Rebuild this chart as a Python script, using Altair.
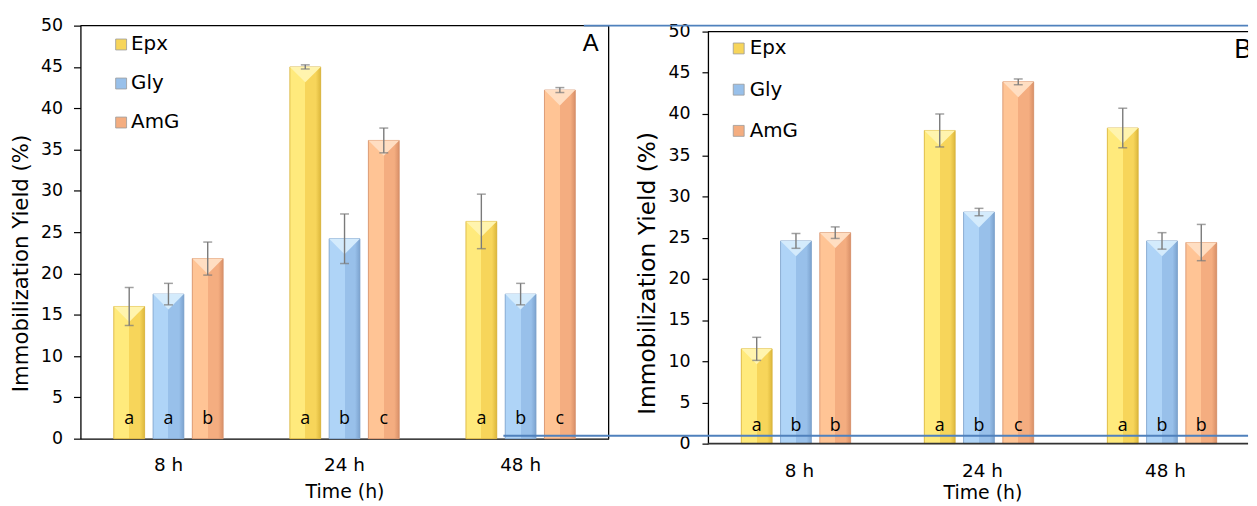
import altair as alt
import pandas as pd

series = ["Epx", "Gly", "AmG"]
times_a = ["8 h", "24 h", "48 h"]
times_b = ["8 h", "24 h", "48  h"]
y_ticks = [0, 5, 10, 15, 20, 25, 30, 35, 40, 45, 50]

# Panel A values (%), errors and significance letters
a_epx = [16.0, 45.0, 26.3]
a_gly = [17.5, 24.2, 17.5]
a_amg = [21.8, 36.1, 42.2]
a_epx_err = [2.3, 0.25, 3.3]
a_gly_err = [1.3, 3.0, 1.3]
a_amg_err = [2.0, 1.5, 0.3]
a_epx_let = ["a", "a", "a"]
a_gly_let = ["a", "b", "b"]
a_amg_let = ["b", "c", "c"]

# Panel B
b_epx = [11.5, 38.0, 38.3]
b_gly = [24.6, 28.1, 24.6]
b_amg = [25.6, 43.9, 24.4]
b_epx_err = [1.4, 2.0, 2.4]
b_gly_err = [0.9, 0.45, 1.0]
b_amg_err = [0.7, 0.35, 2.2]
b_epx_let = ["a", "a", "a"]
b_gly_let = ["b", "b", "b"]
b_amg_let = ["b", "c", "b"]

# style
FONT = "DejaVu Sans"
LIGHT = {"Epx": "#FFEA7C", "Gly": "#AFD4F7", "AmG": "#FFC495"}
MID = {"Epx": "#F7D55A", "Gly": "#98C0EA", "AmG": "#F4AD80"}
DARK = {"Epx": "#DDB83C", "Gly": "#7CA3CF", "AmG": "#D99068"}
TOP = {"Epx": "#FFF4AE", "Gly": "#D4EBFC", "AmG": "#FFDEC2"}
EDGE = {"Epx": "#D6B23E", "Gly": "#7FA2CA", "AmG": "#D4916C"}
ERR = "#7A7A7A"
BLUE = "#4F81BD"


def make_df(times, vals, errs, lets):
    rows = []
    for s, v, e, l in zip(series, vals, errs, lets):
        for t, vv, ee, ll in zip(times, v, e, l):
            rows.append({"time": t, "series": s, "value": vv, "err": ee,
                         "lo": vv - ee, "hi": vv + ee, "letter": ll})
    return pd.DataFrame(rows)


df_a = make_df(times_a, [a_epx, a_gly, a_amg], [a_epx_err, a_gly_err, a_amg_err],
               [a_epx_let, a_gly_let, a_amg_let])
df_b = make_df(times_b, [b_epx, b_gly, b_amg], [b_epx_err, b_gly_err, b_amg_err],
               [b_epx_let, b_gly_let, b_amg_let])


def grad(s):
    return alt.LinearGradient(
        gradient="linear", x1=0, x2=1, y1=0, y2=0,
        stops=[alt.GradientStop(color=LIGHT[s], offset=0),
               alt.GradientStop(color=LIGHT[s], offset=0.5),
               alt.GradientStop(color=MID[s], offset=0.5),
               alt.GradientStop(color=MID[s], offset=0.84),
               alt.GradientStop(color=DARK[s], offset=1)])


def panel(df, times, width, height, x_range, y_range, x_axis, y_axis, legend,
          xo_pad, letter_dy, label, label_x, label_y, label_size, extra):
    xs = alt.Scale(domain=times, paddingInner=0, paddingOuter=0)
    if x_range is not None:
        xs = alt.Scale(domain=times, paddingInner=0, paddingOuter=0, range=x_range)
    x = alt.X("time:N", sort=times, scale=xs, axis=x_axis)
    xo = alt.XOffset("series:N", sort=series,
                     scale=alt.Scale(domain=series, paddingInner=xo_pad[0], paddingOuter=xo_pad[1]))
    ys = alt.Scale(domain=[0, 50], nice=False, zero=True)
    if y_range is not None:
        ys = alt.Scale(domain=[0, 50], nice=False, zero=True, range=y_range)
    y = alt.Y("value:Q", scale=ys, axis=y_axis)
    base = alt.Chart(df)
    layers = [base.mark_bar().encode(
        x=x, xOffset=xo, y=y,
        color=alt.Color("series:N", sort=series,
                        scale=alt.Scale(domain=series, range=[MID[s] for s in series]),
                        legend=legend))]
    for s in series:
        sub = base.transform_filter(alt.datum.series == s)
        layers.append(sub.mark_bar(color=grad(s), stroke=EDGE[s], strokeWidth=0.8).encode(
            x=x, xOffset=xo, y=y))
        layers.append(sub.mark_point(shape="M-1,0L1,0L0,1Z", filled=True, size=961,
                                     opacity=1, color=TOP[s], strokeWidth=0).encode(
            x=x, xOffset=xo, y=y))
    layers.append(base.mark_rule(color=ERR, strokeWidth=1.4).encode(
        x=x, xOffset=xo, y=alt.Y("lo:Q"), y2="hi:Q"))
    layers.append(base.mark_tick(color=ERR, size=9, thickness=1.5).encode(
        x=x, xOffset=xo, y=alt.Y("lo:Q")))
    layers.append(base.mark_tick(color=ERR, size=9, thickness=1.5).encode(
        x=x, xOffset=xo, y=alt.Y("hi:Q")))
    layers.append(base.mark_text(font="Open Sans", fontSize=18, color="black",
                                 baseline="alphabetic", dy=letter_dy).encode(
        x=x, xOffset=xo, y=alt.datum(0), text="letter:N"))
    lab = alt.Chart(pd.DataFrame({"p": [label]}))
    layers.append(lab.mark_text(font="Liberation Sans", fontSize=label_size, color="black",
                                align="left", baseline="alphabetic", clip=True).encode(
        x=alt.value(label_x), y=alt.value(label_y), text="p:N"))
    layers += extra
    return alt.layer(*layers).properties(width=width, height=height)


def yaxis(tick, pad, tx, ty, tsize):
    return alt.Axis(values=y_ticks, grid=False, domainColor="black", domainWidth=1.3,
                    tickColor="black", tickSize=tick, tickWidth=1.2,
                    labelFont=FONT, labelFontSize=17.5, labelColor="black", labelPadding=pad,
                    title="Immobilization Yield (%)", titleFont=FONT, titleFontSize=tsize,
                    titleFontWeight="normal", titleColor="black", titleAngle=270,
                    titleX=tx, titleY=ty, titleBaseline="middle", titleAlign="center")


def xaxis(lpad, tpad, domain):
    return alt.Axis(grid=False, ticks=False, tickSize=0, labelAngle=0, domain=domain,
                    domainColor="black", domainWidth=1.3,
                    labelFont=FONT, labelFontSize=18.5, labelColor="black", labelPadding=lpad,
                    title="Time (h)", titleFont=FONT, titleFontSize=19,
                    titleFontWeight="normal", titleColor="black", titlePadding=tpad)


def legend(lx, ly, rp, lo):
    return alt.Legend(title=None, orient="none", legendX=lx, legendY=ly, symbolType="square",
                      symbolSize=121, symbolStrokeColor="#9a9a9a", symbolStrokeWidth=0.8,
                      symbolOpacity=1, labelFont=FONT, labelFontSize=20, labelColor="black",
                      rowPadding=rp, padding=0, labelOffset=lo)


one = alt.Chart(pd.DataFrame({"k": [0]}))
extra_a = [
    one.mark_rule(color="black", strokeWidth=1.3).encode(
        x=alt.value(0), x2=alt.value(532), y=alt.datum(50)),
    one.mark_rule(color="black", strokeWidth=1.3).encode(
        x=alt.value(532), y=alt.datum(0), y2=alt.datum(50)),
]
extra_b = [
    one.mark_rule(color="black", strokeWidth=1.3).encode(
        x=alt.value(0), x2=alt.value(544), y=alt.datum(50)),
    one.mark_rule(color="#333333", strokeWidth=1.6).encode(
        x=alt.value(0), x2=alt.value(544), y=alt.datum(0)),
    one.mark_rule(color=BLUE, strokeWidth=2).encode(
        x=alt.value(-125), x2=alt.value(544), y=alt.value(0)),
    one.mark_rule(color=BLUE, strokeWidth=2).encode(
        x=alt.value(-206), x2=alt.value(544), y=alt.value(413)),
]

panel_a = panel(df_a, times_a, 532, 416, None, None,
                xaxis(17, 9, True), yaxis(7, 11, -59, 239, 21.4), legend(31, 9, 19.3, 0),
                (0.215, 0.85), -15, "A", 506, 26, 24, extra_a)

panel_b = panel(df_b, times_b, 544, 421, [0, 553], [421, 6],
                xaxis(18, 4, False), yaxis(6, 12, -61, 249, 23.5), legend(21, 13, 21.5, 1),
                (0.222, 0.889), -13, "B", 530, 33, 27, extra_b)

chart = alt.hconcat(panel_a, panel_b, spacing=100, bounds="flush").resolve_scale(
    color="independent").resolve_legend(color="independent").properties(
    padding={"left": 11, "top": 15, "right": 0, "bottom": 0}
).configure(font=FONT).configure_view(strokeWidth=0)

chart.save("out.html", embed_options={"renderer": "svg", "actions": False})
